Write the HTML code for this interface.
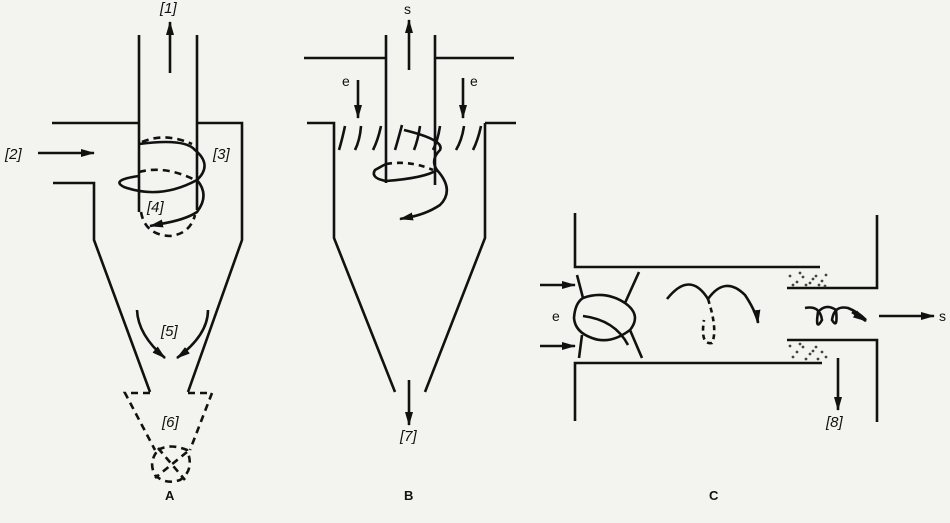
<!DOCTYPE html>
<html><head><style>
html,body{margin:0;padding:0;background:#f3f3ef;}
svg{display:block;}
text{font-family:"Liberation Sans",sans-serif;fill:#111;}
.l{font-style:italic;font-size:15px;}
</style></head><body>
<svg width="950" height="523" viewBox="0 0 950 523">
<defs>
<marker id="b" markerWidth="14" markerHeight="8" refX="13" refY="4" orient="auto" markerUnits="userSpaceOnUse"><path d="M0,0 L14,4 L0,8 Z" fill="#111"/></marker>
</defs>
<g stroke="#111" stroke-width="2.6" fill="none" stroke-linecap="butt">
<!-- A -->
<path d="M139,35 V212 M197,35 V210"/>
<path d="M170,73 V22" marker-end="url(#b)"/>
<path d="M52,123 H139 M197,123 H242 V240 L188,392"/>
<path d="M53,183 H94 V240 L150,392"/>
<path d="M38,153 H94" marker-end="url(#b)"/>
<path d="M139,144 Q185,138 195,150 Q213,165 197,180 M139,176 Q110,180 124,187 Q160,200 197,180 Q210,195 197,212 Q185,220 160,224" />
<path d="M160,224 L150,226" marker-end="url(#b)"/>
<path d="M142,142 Q165,132 192,144 M139,172 Q165,165 195,180 M141,212 Q145,235 170,236 Q190,234 195,215" stroke-dasharray="7,5"/>
<path d="M137,310 Q138,335 165,358" marker-end="url(#b)"/>
<path d="M208,310 Q208,335 177,358" marker-end="url(#b)"/>
<path d="M150,393 H125 L155,450 M188,393 H212 L190,450 M158,450 Q170,443 187,450 Q195,470 180,480 Q165,485 155,475 Q148,462 158,450 M158,448 L185,480 M187,452 L155,478" stroke-dasharray="7,5"/>
<!-- B -->
<path d="M386,35 V183 M435,35 V185"/>
<path d="M409,70 V20" marker-end="url(#b)"/>
<path d="M304,58 H386 M435,58 H514"/>
<path d="M307,123 H334 V238 L395,392 M485,123 H516 M485,123 V238 L425,392"/>
<path d="M409,380 V425" marker-end="url(#b)"/>
<path d="M358,80 V118" marker-end="url(#b)"/>
<path d="M463,78 V118" marker-end="url(#b)"/>
<path d="M345,126 Q342,140 339,150 M361,126 Q360,140 355,150 M381,126 Q378,140 373,150 M402,125 Q398,140 395,150 M420,126 Q418,140 414,150 M440,126 Q438,140 433,150 M464,126 Q462,140 456,150 M481,126 Q478,140 473,150"/>
<path d="M404,130 Q445,140 440,150 Q430,160 437,170 Q425,178 386,181 Q370,178 375,170 Q382,166 386,164 M437,170 Q455,190 440,205 Q425,215 405,218" />
<path d="M405,218 L400,219" marker-end="url(#b)"/>
<path d="M386,164 Q410,160 433,170" stroke-dasharray="6,5"/>
<!-- C -->
<path d="M575,213 V267 H820 M877,215 V288 H787"/>
<path d="M575,421 V363 H822 M877,422 V340 H787"/>
<path d="M540,285 H575" marker-end="url(#b)"/>
<path d="M540,346 H575" marker-end="url(#b)"/>
<path d="M879,316 H934" marker-end="url(#b)"/>
<path d="M838,358 V410" marker-end="url(#b)"/>
<path d="M577,275 L583,298 M639,272 L625,303 M582,335 L579,358 M630,330 L642,358"/>
<path d="M583,298 Q605,290 625,303 Q642,315 630,330 Q610,345 592,338 Q575,332 574,318 Q575,303 583,298 Z"/>
<path d="M583,316 Q615,320 628,345"/>
<path d="M667,299 Q690,270 708,299 Q725,275 745,295 Q755,310 758,322" />
<path d="M757,315 L758,323" marker-end="url(#b)"/>
<path d="M708,299 Q718,330 712,343 Q700,345 704,320" stroke-dasharray="5,4"/>
<path d="M805,308 Q820,305 822,320 Q815,332 818,312 Q826,303 836,310 Q838,330 832,320 Q834,305 848,308 Q858,312 866,320" />
<path d="M852,312 L866,321" marker-end="url(#b)"/>
</g>
<g fill="#444">
<circle cx="790" cy="276" r="1.4"/><circle cx="797" cy="282" r="1.4"/><circle cx="803" cy="277" r="1.4"/><circle cx="810" cy="283" r="1.4"/><circle cx="816" cy="276" r="1.4"/><circle cx="822" cy="281" r="1.4"/><circle cx="826" cy="275" r="1.4"/><circle cx="793" cy="285" r="1.4"/><circle cx="806" cy="285" r="1.4"/><circle cx="825" cy="286" r="1.4"/><circle cx="800" cy="273" r="1.4"/><circle cx="813" cy="279" r="1.4"/><circle cx="819" cy="285" r="1.4"/>
<circle cx="790" cy="346" r="1.4"/><circle cx="797" cy="352" r="1.4"/><circle cx="803" cy="347" r="1.4"/><circle cx="810" cy="354" r="1.4"/><circle cx="816" cy="347" r="1.4"/><circle cx="822" cy="352" r="1.4"/><circle cx="826" cy="357" r="1.4"/><circle cx="793" cy="357" r="1.4"/><circle cx="806" cy="359" r="1.4"/><circle cx="818" cy="359" r="1.4"/><circle cx="800" cy="344" r="1.4"/><circle cx="813" cy="351" r="1.4"/>
</g>
<text class="l" x="160" y="13">[1]</text>
<text class="l" x="5" y="159">[2]</text>
<text class="l" x="213" y="159">[3]</text>
<text class="l" x="147" y="212">[4]</text>
<text class="l" x="161" y="336">[5]</text>
<text class="l" x="162" y="427">[6]</text>
<text class="l" x="400" y="441">[7]</text>
<text class="l" x="826" y="427">[8]</text>
<text x="404" y="14" font-size="14">s</text>
<text x="342" y="86" font-size="14">e</text>
<text x="470" y="86" font-size="14">e</text>
<text x="552" y="321" font-size="14">e</text>
<text x="939" y="321" font-size="14">s</text>
<text x="165" y="500" font-size="13" font-weight="bold">A</text>
<text x="404" y="500" font-size="13" font-weight="bold">B</text>
<text x="709" y="500" font-size="13" font-weight="bold">C</text>
</svg>
</body></html>
